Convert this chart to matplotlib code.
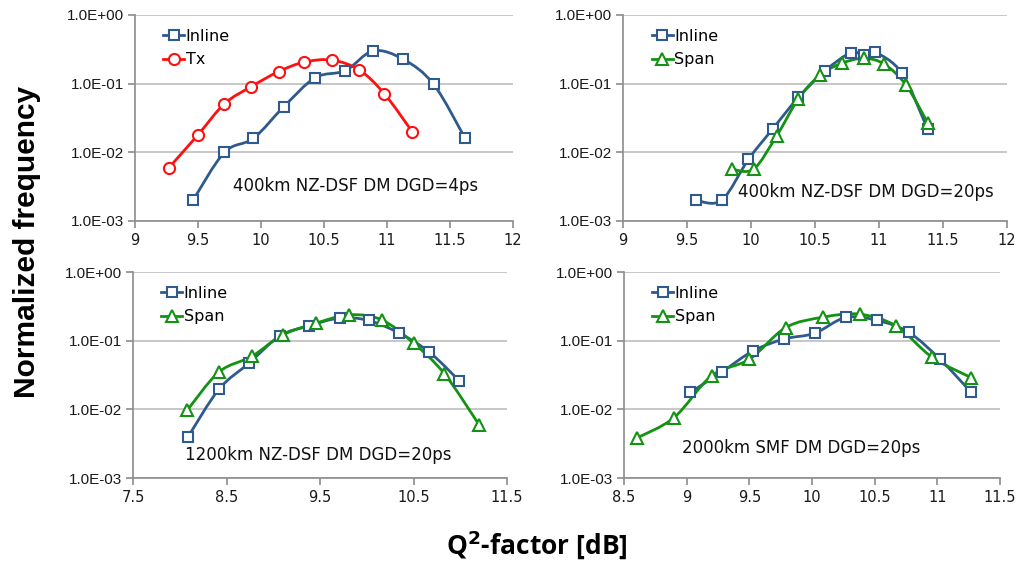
import matplotlib.pyplot as plt
import numpy as np
from matplotlib.path import Path
from matplotlib.patches import PathPatch
from matplotlib.lines import Line2D

# panel 1: 400km NZ-DSF DM DGD=4ps
p1_inline_x = [9.46, 9.71, 9.94, 10.18, 10.43, 10.67, 10.89, 11.13, 11.37, 11.62]
p1_inline_y = [0.002, 0.010, 0.016, 0.046, 0.122, 0.155, 0.300, 0.226, 0.098, 0.016]
p1_tx_x = [9.27, 9.50, 9.71, 9.92, 10.14, 10.34, 10.56, 10.78, 10.98, 11.20]
p1_tx_y = [0.006, 0.018, 0.051, 0.090, 0.150, 0.205, 0.221, 0.158, 0.071, 0.020]

# panel 2: 400km NZ-DSF DM DGD=20ps
p2_inline_x = [9.57, 9.77, 9.98, 10.17, 10.37, 10.58, 10.78, 10.88, 10.97, 11.18, 11.38]
p2_inline_y = [0.002, 0.002, 0.0079, 0.022, 0.063, 0.155, 0.283, 0.26, 0.286, 0.141, 0.0216]
p2_span_x = [9.85, 10.02, 10.20, 10.37, 10.54, 10.71, 10.88, 11.04, 11.21, 11.38]
p2_span_y = [0.0057, 0.0057, 0.0173, 0.060, 0.134, 0.198, 0.234, 0.193, 0.096, 0.027]

# panel 3: 1200km NZ-DSF DM DGD=20ps
p3_inline_x = [8.09, 8.42, 8.74, 9.07, 9.38, 9.71, 10.02, 10.35, 10.67, 10.99]
p3_inline_y = [0.004, 0.0197, 0.047, 0.117, 0.164, 0.213, 0.197, 0.128, 0.068, 0.026]
p3_span_x = [8.08, 8.42, 8.77, 9.10, 9.46, 9.81, 10.16, 10.50, 10.83, 11.20]
p3_span_y = [0.0097, 0.035, 0.059, 0.121, 0.180, 0.238, 0.201, 0.092, 0.033, 0.006]

# panel 4: 2000km SMF DM DGD=20ps
p4_inline_x = [9.03, 9.28, 9.53, 9.78, 10.02, 10.27, 10.52, 10.77, 11.02, 11.27]
p4_inline_y = [0.0177, 0.035, 0.071, 0.106, 0.128, 0.218, 0.197, 0.133, 0.054, 0.0177]
p4_span_x = [8.60, 8.90, 9.20, 9.50, 9.79, 10.09, 10.38, 10.67, 10.96, 11.27]
p4_span_y = [0.0038, 0.0076, 0.031, 0.0535, 0.155, 0.220, 0.243, 0.164, 0.057, 0.029]

BLUE = '#2E5A8E'
RED = '#FF1010'
GREEN = '#139213'
W, H = 1024, 566


def smooth_path(xs, ys):
    # Excel-like smoothed line: Catmull-Rom bezier in (x, log y)
    p = np.column_stack([xs, np.log10(ys)])
    pts = np.vstack([p[0], p, p[-1]])
    verts = [p[0]]
    codes = [Path.MOVETO]
    for i in range(1, len(pts) - 2):
        c1 = pts[i] + (pts[i + 1] - pts[i - 1]) / 6
        c2 = pts[i + 1] - (pts[i + 2] - pts[i]) / 6
        verts += [c1, c2, pts[i + 1]]
        codes += [Path.CURVE4] * 3
    verts = np.array(verts)
    verts[:, 1] = 10 ** verts[:, 1]
    return Path(verts, codes)


def series(ax, xs, ys, color, marker, label):
    ax.add_patch(PathPatch(smooth_path(xs, ys), fill=False, edgecolor=color,
                           lw=2, zorder=3))
    ms = 7.5 if marker == 's' else 8
    ax.plot(xs, ys, ls='none', marker=marker, ms=ms, mfc='white', mec=color,
            mew=1.5, zorder=4)
    return Line2D([], [], color=color, lw=2, marker=marker, ms=ms, mfc='white',
                  mec=color, mew=1.5, label=label)


def panel(box, xlim, xticks, xlabels, data, note, note_xy):
    l, r, t, b = box
    ax = fig.add_axes([l / W, (H - b) / H, (r - l) / W, (b - t) / H])
    ax.set_yscale('log')
    ax.set_ylim(1e-3, 1)
    ax.set_xlim(*xlim)
    handles = [series(ax, *d) for d in data]
    ax.set_yticks([1e-3, 1e-2, 1e-1, 1])
    ax.set_yticklabels(['1.0E-03', '1.0E-02', '1.0E-01', '1.0E+00'],
                       family='Liberation Sans', fontsize=11)
    ax.minorticks_off()
    ax.set_xticks(xticks)
    ax.set_xticklabels(xlabels, fontsize=10.5)
    ax.yaxis.grid(True, color='#BEBEBE', lw=1.2)
    ax.set_axisbelow(True)
    for s in ['top', 'right']:
        ax.spines[s].set_visible(False)
    for s in ['left', 'bottom']:
        ax.spines[s].set_color('#8C8C8C')
        ax.spines[s].set_linewidth(1.2)
    ax.tick_params(colors='#8C8C8C', labelcolor='#1a1a1a', length=5, width=1.2,
                   direction='out')
    ax.tick_params(axis='y', pad=3)
    ax.legend(handles=handles, loc='upper left', bbox_to_anchor=(0.05, 0.98),
              frameon=False, fontsize=11.5, handlelength=1.3, handletextpad=0.1,
              labelspacing=0.55, borderaxespad=0.2)
    ax.text(note_xy[0], note_xy[1], note, transform=ax.transAxes, fontsize=12,
            ha='left', va='center', color='#111111')
    return ax


fig = plt.figure(figsize=(W / 100, H / 100), dpi=100)

x1 = [9, 9.5, 10, 10.5, 11, 11.5, 12]
l1 = ['9', '9.5', '10', '10.5', '11', '11.5', '12']
panel((135, 513, 15, 221), (9, 12), x1, l1,
      [(p1_inline_x, p1_inline_y, BLUE, 's', 'Inline'),
       (p1_tx_x, p1_tx_y, RED, 'o', 'Tx')],
      '400km NZ-DSF DM DGD=4ps', (0.26, 0.17))
panel((623, 1007, 15, 221), (9, 12), x1, l1,
      [(p2_inline_x, p2_inline_y, BLUE, 's', 'Inline'),
       (p2_span_x, p2_span_y, GREEN, '^', 'Span')],
      '400km NZ-DSF DM DGD=20ps', (0.3, 0.14))
panel((133, 507, 272, 478), (7.5, 11.5), [7.5, 8.5, 9.5, 10.5, 11.5],
      ['7.5', '8.5', '9.5', '10.5', '11.5'],
      [(p3_inline_x, p3_inline_y, BLUE, 's', 'Inline'),
       (p3_span_x, p3_span_y, GREEN, '^', 'Span')],
      '1200km NZ-DSF DM DGD=20ps', (0.14, 0.11))
panel((624, 1000, 272, 478), (8.5, 11.5), [8.5, 9, 9.5, 10, 10.5, 11, 11.5],
      ['8.5', '9', '9.5', '10', '10.5', '11', '11.5'],
      [(p4_inline_x, p4_inline_y, BLUE, 's', 'Inline'),
       (p4_span_x, p4_span_y, GREEN, '^', 'Span')],
      '2000km SMF DM DGD=20ps', (0.155, 0.145))

fig.text(27 / W, 1 - 242 / H, 'Normalized frequency', rotation=90, ha='center',
         va='center', fontsize=21.5, fontweight='bold', family='Liberation Sans')
fig.text(537 / W, 1 - 545 / H, 'Q$^{\\mathbf{2}}$-factor [dB]', ha='center',
         va='center', fontsize=19, fontweight='bold', family='Open Sans')

fig.savefig('out.png', dpi=100)
